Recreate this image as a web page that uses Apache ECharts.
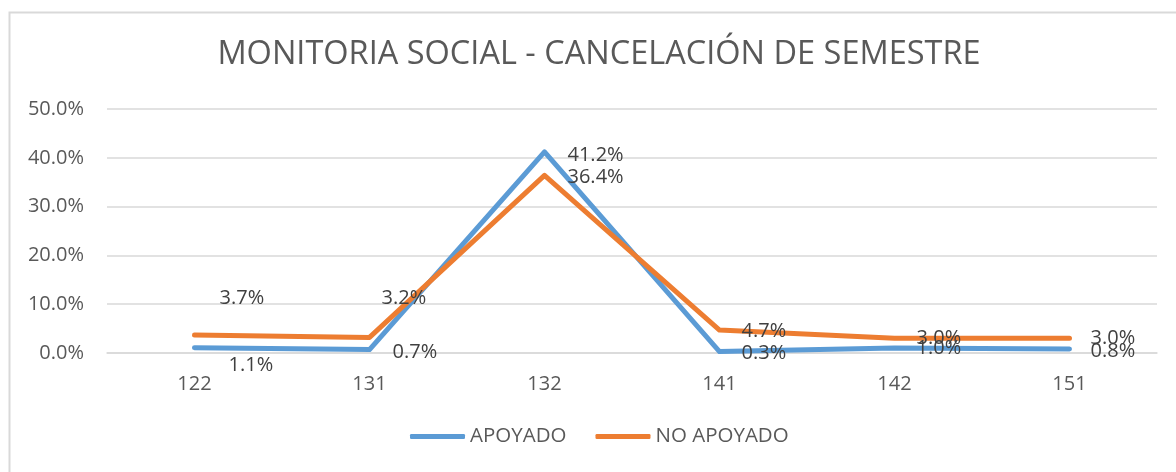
<!DOCTYPE html>
<html>
<head>
<meta charset="utf-8">
<script src="https://cdn.jsdelivr.net/npm/echarts@6/dist/echarts.min.js"></script>
<style>html,body{margin:0;padding:0;background:#fff}#c{width:1176px;height:472px}</style>
</head>
<body>
<div id="c"></div>
<script>
const categories = ['122', '131', '132', '141', '142', '151'];
const apoyado = [1.1, 0.7, 41.2, 0.3, 1.0, 0.8];
const noApoyado = [3.7, 3.2, 36.4, 4.7, 3.0, 3.0];
const yTicks = [0, 10, 20, 30, 40, 50];

// label offsets (style only)
const offA = [[29, 18], [18, 3], [18, 3], [17, 2], [17, 0], [16, 2]];
const offN = [[20, -37], [7, -39], [18, 2], [17, 1], [17, 0], [16, 0]];

const FONT = 'Open Sans';
const chart = echarts.init(document.getElementById('c'));
function mk(vals, offs) {
  return vals.map((v, i) => ({ value: v, label: { offset: offs[i] } }));
}
const lbl = { show: true, position: 'right', distance: 5, fontFamily: FONT, fontSize: 20, color: '#404040',
  formatter: p => p.value.toFixed(1) + '%' };
chart.setOption({
  animation: false,
  graphic: [{
    type: 'rect', left: 7, top: 10,
    shape: { width: 1300, height: 600 },
    style: { fill: 'none', stroke: '#d9d9d9', lineWidth: 2 }, silent: true
  }],
  title: {
    text: 'MONITORIA SOCIAL - CANCELACIÓN DE SEMESTRE',
    left: 594, top: 33, textAlign: 'center',
    textStyle: { fontFamily: FONT, fontSize: 32.5, fontWeight: 'normal', color: '#595959' }
  },
  legend: {
    bottom: 20, left: 405, itemGap: 29, itemWidth: 55, itemHeight: 5,
    icon: 'roundRect',
    textStyle: { fontFamily: FONT, fontSize: 20.5, color: '#595959', padding: [0, 0, 0, 0] },
    data: ['APOYADO', 'NO APOYADO']
  },
  grid: { left: 107, right: 19, top: 109, bottom: 119 },
  xAxis: {
    type: 'category', data: categories, boundaryGap: true,
    axisLine: { lineStyle: { color: '#d9d9d9', width: 1.5 } },
    axisTick: { show: false },
    axisLabel: { fontFamily: FONT, fontSize: 20, color: '#595959', margin: 21 }
  },
  yAxis: {
    type: 'value', min: yTicks[0], max: yTicks[yTicks.length - 1], interval: 10,
    axisLine: { show: false }, axisTick: { show: false },
    splitLine: { lineStyle: { color: '#d9d9d9', width: 1.5 } },
    axisLabel: { fontFamily: FONT, fontSize: 20, color: '#595959', margin: 23,
      formatter: v => v.toFixed(1) + '%' }
  },
  series: [
    { name: 'APOYADO', type: 'line', data: mk(apoyado, offA), symbol: 'circle', symbolSize: 0, showSymbol: true,
      lineStyle: { color: '#5B9BD5', width: 5, cap: 'round', join: 'round' }, itemStyle: { color: '#5B9BD5' },
      label: lbl },
    { name: 'NO APOYADO', type: 'line', data: mk(noApoyado, offN), symbol: 'circle', symbolSize: 0, showSymbol: true,
      lineStyle: { color: '#ED7D31', width: 5, cap: 'round', join: 'round' }, itemStyle: { color: '#ED7D31' },
      label: lbl }
  ]
});
</script>
</body>
</html>
